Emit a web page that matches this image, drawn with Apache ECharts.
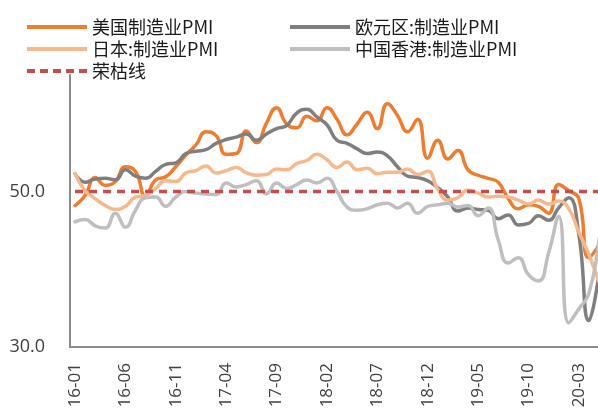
<!DOCTYPE html>
<html>
<head>
<meta charset="utf-8">
<script src="https://cdn.jsdelivr.net/npm/echarts@6/dist/echarts.min.js"></script>
<style>html,body{margin:0;padding:0;background:#fff;}#c{width:598px;height:414px;}</style>
</head>
<body>
<div id="c"></div>
<script>
const categories = [
  '16-01','16-02','16-03','16-04','16-05','16-06','16-07','16-08','16-09','16-10','16-11','16-12',
  '17-01','17-02','17-03','17-04','17-05','17-06','17-07','17-08','17-09','17-10','17-11','17-12',
  '18-01','18-02','18-03','18-04','18-05','18-06','18-07','18-08','18-09','18-10','18-11','18-12',
  '19-01','19-02','19-03','19-04','19-05','19-06','19-07','19-08','19-09','19-10','19-11','19-12',
  '20-01','20-02','20-03','20-04','20-05'
];
const usPMI = [
  48.2,49.5,51.8,50.8,51.3,53.2,52.6,49.4,51.5,51.9,53.2,54.7,
  56.0,57.7,57.2,54.8,54.9,57.8,56.3,58.8,60.8,58.7,58.2,59.7,
  59.1,60.8,59.3,57.3,58.7,60.2,58.1,61.3,59.8,57.7,59.3,54.3,
  56.6,54.2,55.3,52.8,52.1,51.7,51.2,49.1,47.8,48.3,48.1,47.2,
  50.9,50.1,49.1,41.5,43.1
];
const euroPMI = [
  52.3,51.2,51.6,51.7,51.5,52.8,52.0,51.7,52.6,53.5,53.7,54.9,
  55.2,55.4,56.2,56.7,57.0,57.4,56.6,57.4,58.1,58.5,60.1,60.6,
  59.6,58.6,56.6,56.2,55.5,54.9,55.1,54.6,53.2,52.0,51.8,51.4,
  50.5,49.3,47.5,47.9,47.7,47.6,46.5,47.0,45.7,45.9,46.9,46.3,
  47.9,49.2,44.5,33.4,39.4
];
const japanPMI = [
  52.3,50.1,49.1,48.2,47.7,48.1,49.3,49.5,50.4,51.4,51.3,52.4,
  52.7,53.3,52.4,52.7,53.1,52.4,52.1,52.2,52.9,52.8,53.6,54.0,
  54.8,54.1,53.1,53.8,52.8,53.0,52.3,52.5,52.5,52.9,52.2,52.6,
  50.3,48.9,49.2,50.2,49.8,49.3,49.4,49.3,48.9,48.4,48.9,48.4,
  48.8,47.8,44.8,41.9,38.4
];
const hkPMI = [
  46.1,46.4,45.6,45.3,47.2,45.4,47.6,49.2,49.3,48.1,49.3,50.0,
  49.8,49.7,49.6,51.1,50.6,50.9,51.4,49.7,51.1,50.4,50.9,51.5,
  51.1,51.7,50.0,48.0,47.6,47.8,48.3,48.5,47.9,48.5,47.2,48.1,
  48.3,48.5,48.0,48.2,46.9,47.9,43.8,40.8,41.5,39.3,38.5,42.1,
  46.8,33.1,34.9,36.9,43.9
];
const breakevenValue = 50;
const breakeven = categories.map(() => breakevenValue);

const seriesNames = ['美国制造业PMI','欧元区:制造业PMI','日本:制造业PMI','中国香港:制造业PMI','荣枯线'];
const colors = ['#ED7D31','#7F7F7F','#F7B98C','#BFBFBF','#C0504D'];

const solidIcon = 'path://M0,0H60V4H0Z';
const dashIcon = 'path://M0,0H8V4H0Z M13,0H21V4H13Z M26,0H34V4H26Z M39,0H47V4H39Z M52,0H60V4H52Z';

const chart = echarts.init(document.getElementById('c'), null, {renderer:'canvas'});
const legendText = {fontFamily:'"Noto Sans CJK SC", sans-serif', fontSize:18, color:'#1a1a1a', lineHeight:22};
const lineSeries = (name, data, color, extra) => Object.assign({
  name, type:'line', data, smooth:0.5, symbol:'none', showSymbol:false,
  lineStyle:{color, width:3.5, cap:'round', join:'round'}, itemStyle:{color},
  emphasis:{disabled:true}, animation:false
}, extra || {});

const legendCommon = {orient:'vertical', top:11, itemWidth:60, itemHeight:4, itemGap:0,
  textStyle:legendText, selectedMode:false};

chart.setOption({
  animation:false,
  color: colors,
  grid:{left:70, top:75, bottom:67, width:534, containLabel:false, outerBoundsMode:'none'},
  legend:[
    Object.assign({left:22, data:[
      {name:seriesNames[0], icon:solidIcon},
      {name:seriesNames[2], icon:solidIcon},
      {name:seriesNames[4], icon:dashIcon}
    ]}, legendCommon),
    Object.assign({left:285, data:[
      {name:seriesNames[1], icon:solidIcon},
      {name:seriesNames[3], icon:solidIcon}
    ]}, legendCommon)
  ],
  xAxis:{
    type:'category', data:categories, boundaryGap:true,
    axisLine:{lineStyle:{color:'#8c8c8c', width:2}},
    axisTick:{show:false},
    axisLabel:{interval:4, rotate:90, margin:16, fontSize:17, color:'#404040', fontFamily:'"Open Sans", sans-serif'},
    splitLine:{show:false}
  },
  yAxis:{
    type:'value', min:30, max:65, interval:20,
    axisLine:{show:true, lineStyle:{color:'#8c8c8c', width:2}},
    axisTick:{show:false},
    splitLine:{show:false},
    axisLabel:{showMaxLabel:false, margin:25, fontSize:18, color:'#404040', fontFamily:'"Open Sans", sans-serif',
      formatter:(v)=>v.toFixed(1)}
  },
  series:[
    lineSeries(seriesNames[0], usPMI, colors[0]),
    lineSeries(seriesNames[1], euroPMI, colors[1]),
    lineSeries(seriesNames[2], japanPMI, colors[2]),
    lineSeries(seriesNames[3], hkPMI, colors[3]),
    lineSeries(seriesNames[4], breakeven, colors[4], {smooth:false,
      lineStyle:{color:colors[4], width:3.5, type:[8,6], cap:'butt'}})
  ]
});
</script>
</body>
</html>
